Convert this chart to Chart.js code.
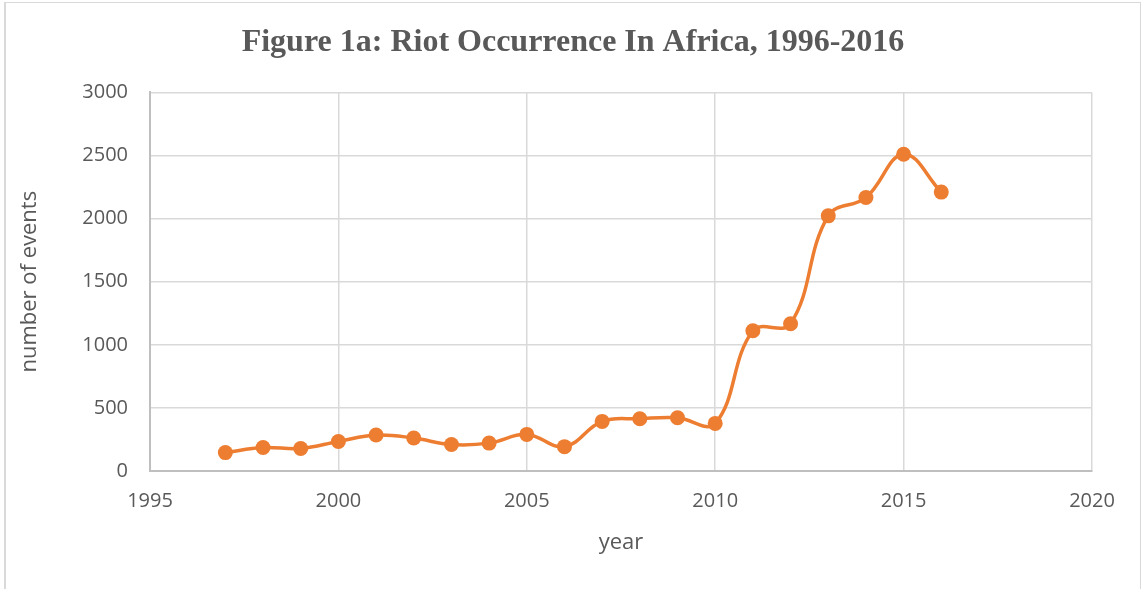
<!DOCTYPE html>
<html>
<head>
<meta charset="utf-8">
<script src="https://cdn.jsdelivr.net/npm/chart.js@4/dist/chart.umd.min.js"></script>
<style>
    html, body { margin: 0; padding: 0; background: #fff; overflow: hidden; }
    #marco { position: absolute; left: 4px; top: 2px; width: 1137px; height: 620px;
             border: 1px solid #d9d9d9; border-left-width: 2px; box-sizing: border-box; }
    #grafico { position: absolute; left: 0; top: 0; }
</style>
</head>
<body>
<canvas id="grafico" width="1146" height="589"></canvas>
<div id="marco"></div>
<script>
// Disturbios por año (número de eventos)
const anios = [1997, 1998, 1999, 2000, 2001, 2002, 2003, 2004, 2005, 2006,
               2007, 2008, 2009, 2010, 2011, 2012, 2013, 2014, 2015, 2016];
const eventos = [146, 186, 178, 234, 285, 261, 210, 221, 290, 193,
                 393, 414, 422, 377, 1111, 1167, 2022, 2167, 2510, 2210];

const titulo = "Figure 1a: Riot Occurrence In Africa, 1996-2016";
const tituloX = "year";
const tituloY = "number of events";

const naranja = "#ED7D31";
const gris = "#595959";
const fuente = "'Open Sans', sans-serif";

const puntos = anios.map((a, i) => ({ x: a, y: eventos[i] }));

const ctx = document.getElementById("grafico").getContext("2d");
new Chart(ctx, {
    type: "line",
    data: {
        datasets: [{
            label: "eventos",
            data: puntos,
            borderColor: naranja,
            backgroundColor: naranja,
            borderWidth: 3.5,
            pointRadius: 7.5,
            pointBorderWidth: 0,
            pointBackgroundColor: naranja,
            tension: 0.4,
            fill: false
        }]
    },
    options: {
        responsive: false,
        animation: false,
        layout: { padding: 0 },
        plugins: {
            legend: { display: false },
            tooltip: { enabled: false },
            title: {
                display: true,
                text: titulo,
                color: gris,
                font: { family: "'Liberation Serif', 'Times New Roman', serif", size: 32, weight: "bold", lineHeight: 1.2 },
                padding: { top: 24, bottom: 30 }
            }
        },
        scales: {
            x: {
                type: "linear",
                min: 1995,
                max: 2020,
                afterFit: s => { s.height = 118; },
                ticks: {
                    stepSize: 5,
                    padding: 18,
                    color: gris,
                    font: { family: fuente, size: 20 },
                    callback: v => String(v)
                },
                grid: { color: "#d9d9d9", lineWidth: 1.5, drawTicks: false },
                border: { color: "#bfbfbf", width: 2 },
                title: {
                    display: true,
                    text: tituloX,
                    color: gris,
                    font: { family: fuente, size: 22, lineHeight: 1.2 },
                    padding: { top: 0, bottom: 33 }
                }
            },
            y: {
                min: 0,
                max: 3000,
                afterFit: s => { s.width = 150; },
                ticks: {
                    stepSize: 500,
                    padding: 22,
                    color: gris,
                    font: { family: fuente, size: 20 },
                    callback: v => String(v)
                },
                grid: { color: "#d9d9d9", lineWidth: 1.5, drawTicks: false },
                border: { color: "#bfbfbf", width: 2 },
                title: {
                    display: true,
                    text: tituloY,
                    color: gris,
                    font: { family: fuente, size: 22, lineHeight: 1.2 },
                    padding: { top: 17, bottom: 0 }
                }
            },
            // eje vacío a la derecha, solo reserva margen
            derecha: {
                position: "right",
                display: true,
                afterFit: s => { s.width = 54; },
                ticks: { display: false },
                grid: { display: false },
                border: { display: false }
            }
        }
    }
});
</script>
</body>
</html>
